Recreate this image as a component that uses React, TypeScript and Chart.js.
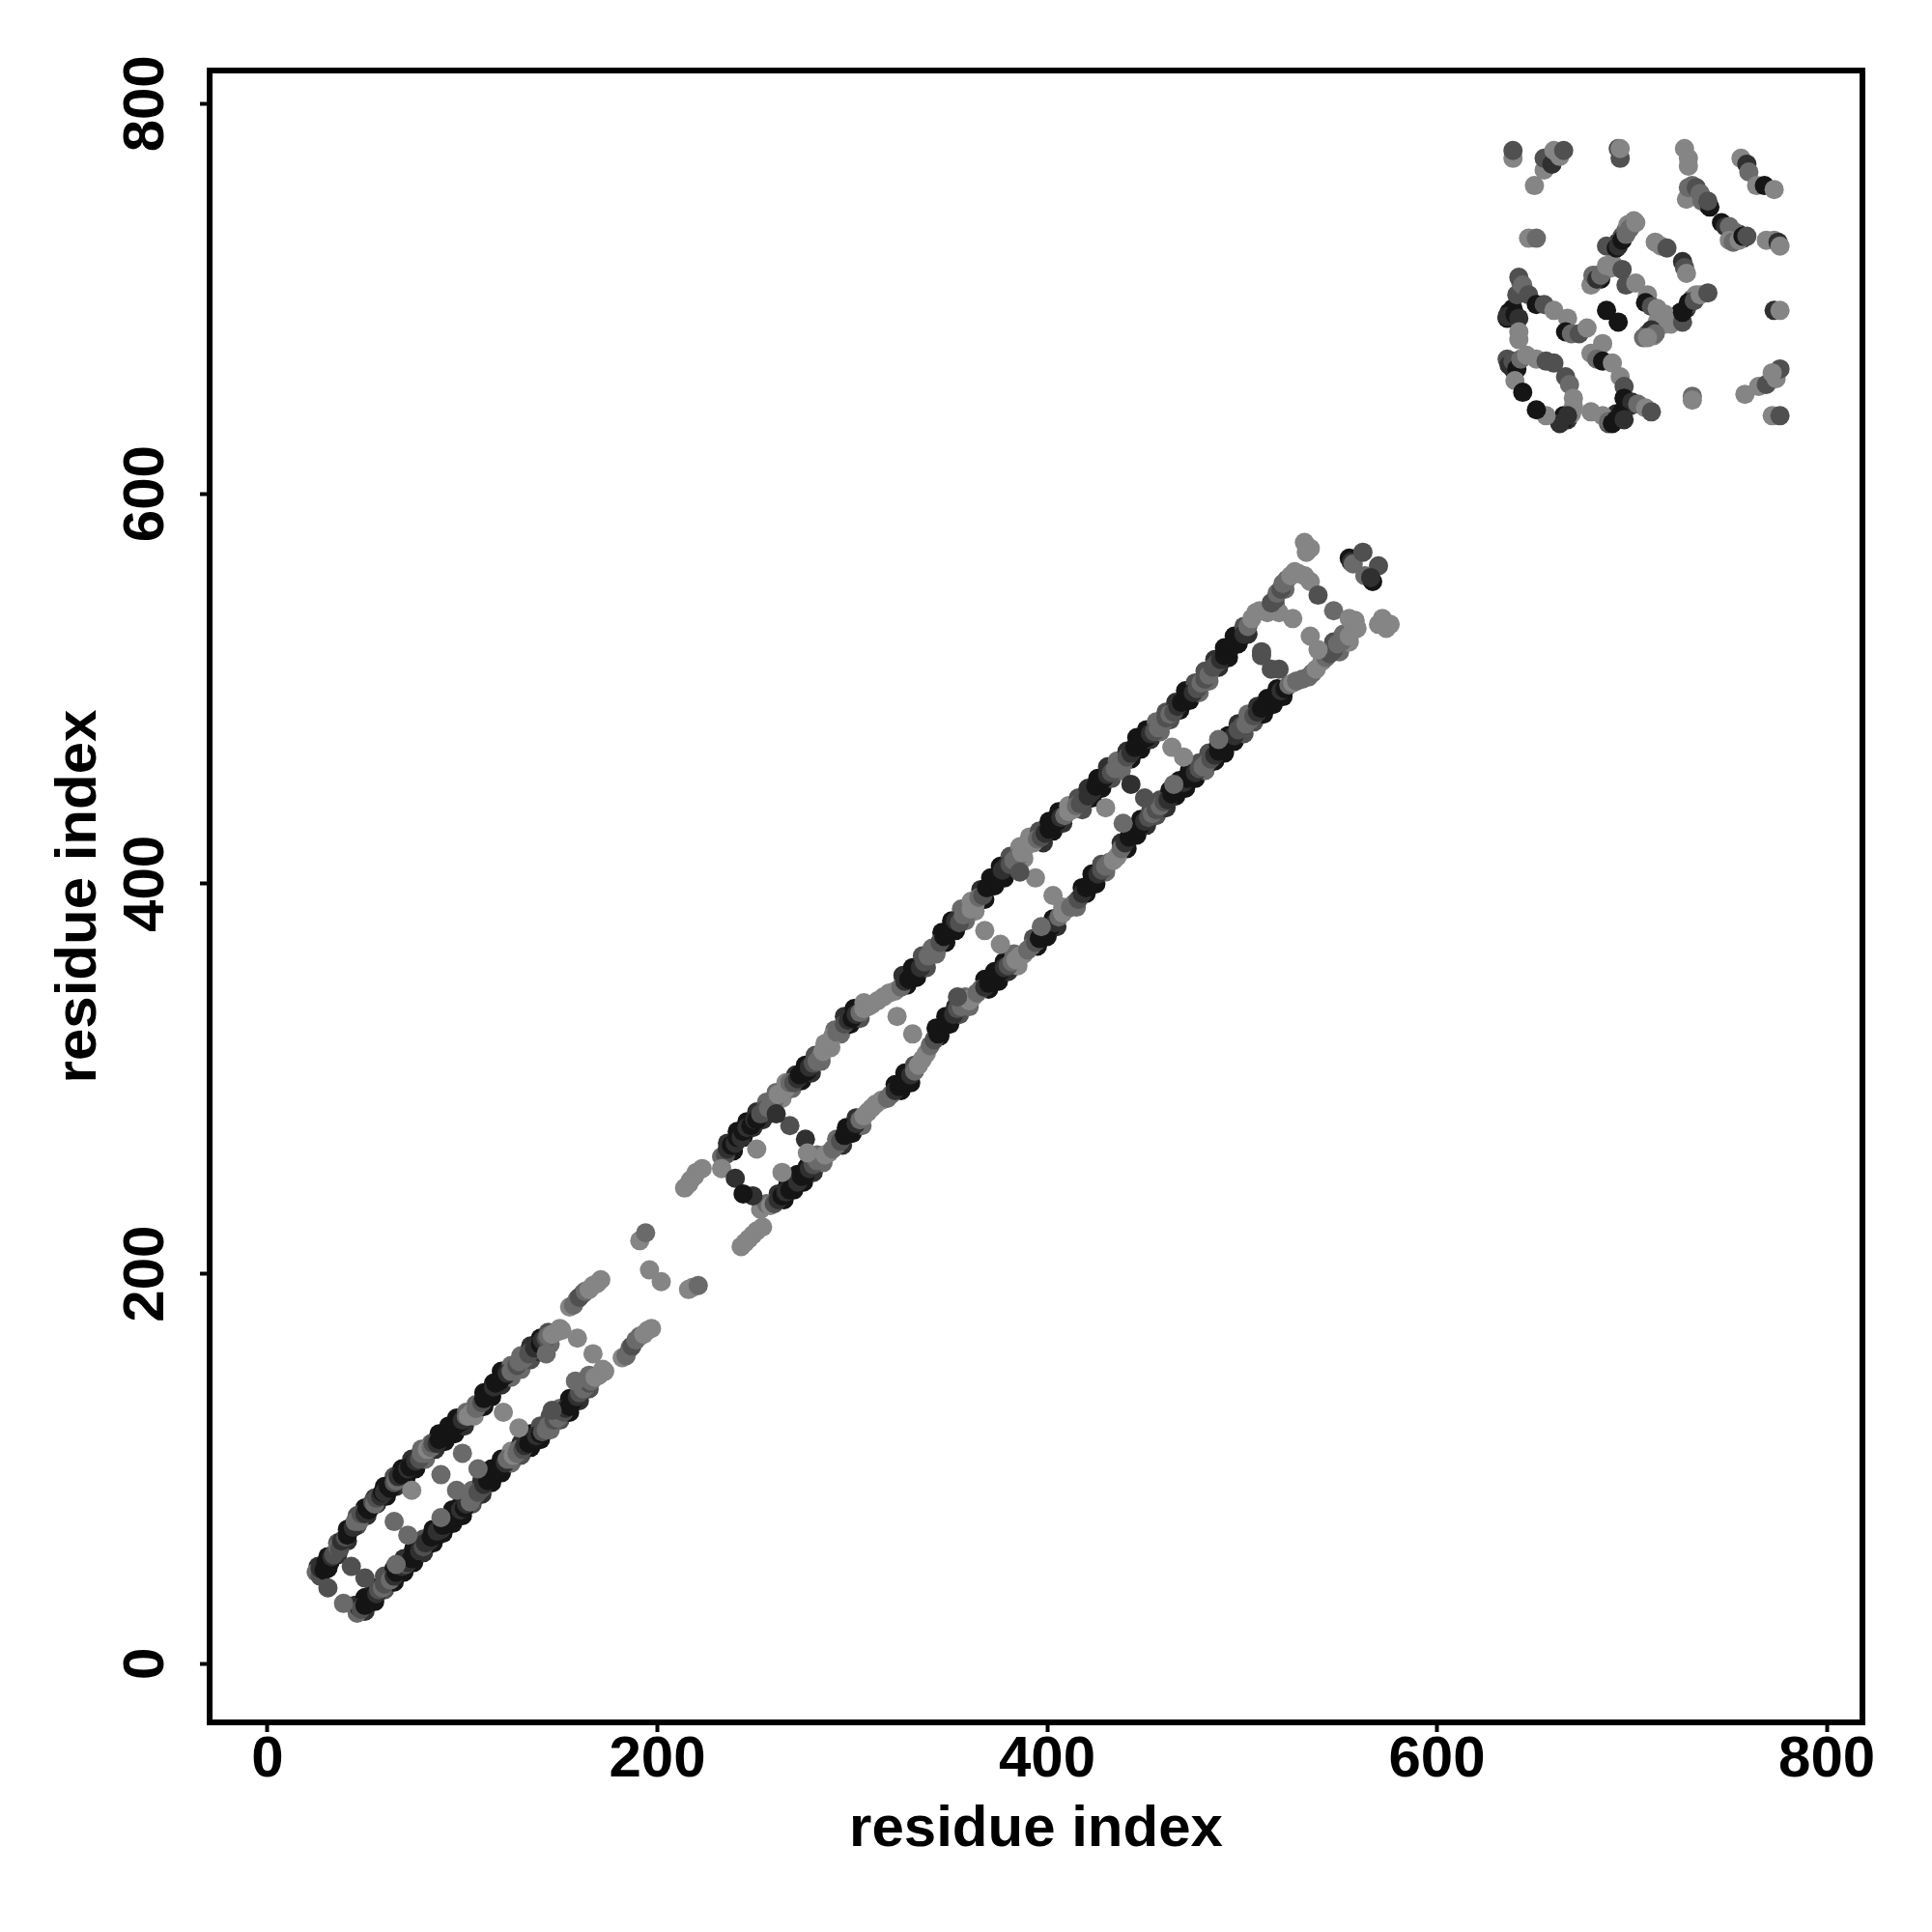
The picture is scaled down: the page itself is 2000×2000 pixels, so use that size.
import React, { useEffect, useRef } from "react";
import { Chart, registerables } from "chart.js";

Chart.register(...registerables);

// Each triple is: residue x, residue y, score class (0 strongest .. 4 weakest)
const firstUpperRailA = [26,50,1,31,55,0,36,62,2,41,69,0,46,76,2,50,80,0,55,85,1,60,91,0,65,96,2,69,100,0,74,105,1,79,110,3,84,113,3,88,118,0,93,122,0,97,126,0,102,129,3,107,133,3,111,139,0,116,144,0,120,150,0,125,153,3,130,158,3,135,163,1,140,167,0,144,170,2];
const firstUpperRailB = [31,49,0,36,56,1,41,63,1,46,71,2,51,76,1,56,82,1,61,86,0,66,91,1,71,95,0,76,100,0,81,105,3,86,110,1,91,114,0,96,118,0,101,122,1,106,127,4,111,132,0,115,137,0,120,143,1,125,147,3,130,151,3,135,156,2,140,160,1,145,164,3];
const firstLowerRailA = [45,30,1,50,34,0,55,39,1,60,45,2,65,49,0,70,54,1,75,59,0,80,64,2,85,69,0,90,74,0,95,79,0,100,84,0,105,89,3,110,94,1,115,100,0,120,105,0,125,109,4,130,113,1,135,118,0,140,122,2,145,127,2,150,131,3,155,136,0,160,142,2,165,148,3];
const firstLowerRailB = [50,27,1,55,32,0,60,38,2,65,42,0,70,47,0,75,52,0,80,57,1,85,62,0,90,67,0,95,72,0,100,76,0,105,82,2,110,87,1,115,93,0,120,98,0,125,103,3,130,107,2,135,111,0,140,115,0,145,120,3,150,125,2,155,129,0,160,135,1,165,141,2];
const secondUpperRailA = [236,267,1,241,273,0,246,278,0,251,283,1,256,288,3,261,293,3,266,298,4,271,302,1,276,307,0,281,312,2,286,318,4,291,325,3,296,332,1,301,336,0,306,339,4,326,353,1,331,357,0,336,363,2,341,367,3,346,375,0,351,381,0,356,387,3,361,391,4,366,397,1,371,403,0,376,409,0,381,414,2,386,419,4,391,424,4,396,427,2,401,432,0,406,437,0,411,440,4,416,444,2,421,449,1,426,454,0,431,460,1,436,463,3,441,468,1,446,475,0,451,479,0,456,483,3,461,488,2,466,493,1,471,499,0,476,503,2,481,509,2,486,515,1,491,521,0,496,527,0,501,532,2];
const secondUpperRailB = [239,263,0,244,270,0,249,275,1,254,279,1,259,285,3,264,290,4,269,295,3,274,299,0,279,303,1,284,309,3,289,316,4,294,323,3,299,328,0,304,331,2,328,348,0,333,352,0,338,357,2,343,364,3,348,370,0,353,376,0,358,381,3,363,386,4,368,392,0,373,399,0,378,403,0,383,409,3,388,413,4,398,421,1,403,427,0,408,431,1,418,438,2,423,444,0,428,449,0,433,454,2,438,458,3,443,464,0,448,469,0,453,474,1,458,478,3,463,484,2,468,489,0,473,494,0,478,498,3,483,504,3,488,511,1,493,516,0,498,523,0,503,528,1,517,543,2,522,551,3];
const secondLowerRailA = [262,241,1,267,246,0,272,251,0,277,255,0,282,261,3,292,269,3,297,275,0,302,280,1,322,297,0,327,303,0,332,307,2,343,326,0,348,332,0,353,337,1,358,342,3,368,351,0,373,355,0,378,360,0,383,364,3,393,372,2,398,377,0,403,382,0,408,388,4,418,398,0,423,405,0,428,410,2,438,421,1,443,427,0,448,433,0,453,437,2,458,443,2,463,448,0,468,453,0,473,458,0,478,462,2,483,467,2,488,471,0,493,476,0,498,482,1,503,487,3,508,491,1,513,495,0,518,500,0,547,524,2,552,528,3];
const secondLowerRailB = [265,238,0,270,243,0,275,247,0,280,252,1,285,257,3,295,266,1,300,272,0,305,276,3,325,294,0,330,298,0,345,322,0,350,328,0,355,333,2,360,337,3,370,346,0,375,350,0,380,355,1,385,358,4,395,368,0,400,373,0,405,378,1,415,388,3,420,395,0,425,400,0,430,406,3,441,418,0,446,425,0,451,430,1,456,435,2,461,439,1,466,445,0,471,449,0,476,454,0,481,458,3,486,463,0,491,467,0,496,473,0,501,477,2,506,483,2,511,487,0,516,492,0,521,496,0,550,519,3,555,524,4];
const firstUpper = [25,47,3,27,45,2,27,49,1,29,48,0,30,52,0,32,52,0,33,55,1,34,56,2,36,60,3,37,59,2,38,63,1,40,65,2,41,66,0,43,70,0,44,70,1,45,73,3,47,73,3,48,77,2,50,77,1,51,80,0,52,79,0,54,83,2,55,82,3,56,85,2,58,86,1,59,88,0,60,88,1,62,91,0,63,90,0,65,93,2,66,94,3,67,96,1,69,97,0,70,98,0,72,100,1,73,101,0,75,103,0,76,104,1,78,105,2,79,108,3,81,108,3,82,110,4,84,111,3,85,113,2,87,113,1,88,115,0,90,116,0,91,118,0,93,119,0,94,120,0,96,122,0,97,123,0,99,124,0,100,125,1,102,127,3,103,127,4,105,129,4,107,131,3,108,133,3,110,134,2,111,136,0,113,138,0,114,140,0,116,142,1,117,144,0,119,145,0,120,147,0,122,148,0,123,149,1,125,150,3,126,152,3,128,153,2,129,155,3,131,156,3,132,157,3,134,159,2,135,160,2,137,162,1,138,163,1,140,164,0,141,166,1,143,167,2,144,168,3,146,169,4,148,170,4,150,172,4,151,171,4];
const firstUpperEnd = [155,183,4,157,184,3,159,187,3,160,188,2,162,190,2,163,191,3,165,192,4,167,194,4,169,195,4,171,197,4];
const firstLower = [46,26,3,47,29,1,48,28,2,50,30,0,51,31,0,53,33,0,54,35,0,56,36,1,57,38,2,59,39,3,60,41,2,62,43,2,63,43,3,65,45,1,66,47,0,68,48,0,69,50,1,71,51,2,72,52,1,74,54,0,75,56,0,77,58,0,78,58,1,80,60,2,81,62,1,83,63,1,84,65,0,86,66,0,87,68,1,89,69,1,90,71,0,92,72,0,93,73,0,95,75,0,96,77,0,98,78,0,99,79,1,101,80,0,102,82,1,104,83,3,105,85,3,107,87,3,108,88,2,110,90,2,111,92,1,113,94,0,114,96,0,116,97,0,117,99,0,119,100,0,120,102,0,122,103,1,123,105,3,125,105,3,126,107,4,128,108,3,129,110,3,131,110,2,132,112,1,134,113,0,135,115,0,137,115,0,138,117,1,140,118,0,141,119,2,143,120,3,144,122,3,146,123,3,147,125,2,149,126,3,150,128,3,152,129,2,153,131,1,155,132,0,156,134,0,158,136,0,159,137,1,160,139,2,162,141,3,163,142,3,165,144,2,166,145,3,168,147,4,170,148,4,172,151,4,173,150,4];
const firstLowerEnd = [182,157,4,184,158,3,186,162,3,187,163,2,189,166,3,191,168,3,193,169,4,195,171,4,197,172,4];
const firstCross = [31,39,2,43,50,2,39,31,3,50,44,2,65,73,3,72,66,3,66,51,3,74,89,4,89,97,3,97,89,3,89,75,3,100,108,3,108,100,3,121,129,4,129,121,4,143,159,3,159,167,4,167,159,4,158,145,3,146,130,2];
const bridgePoints = [191,217,4,194,221,3,196,202,4,202,196,4,216,192,4,218,193,4,221,194,3];
const secondUpperStart = [214,244,4,216,246,4,217,248,4,219,250,4,220,252,4,223,254,4];
const secondLowerStart = [243,214,4,245,216,4,247,218,4,249,220,4,251,222,4,254,224,4];
const secondUpper = [233,260,3,235,261,2,236,264,1,238,266,0,240,267,1,241,270,0,243,270,1,244,273,0,246,275,1,248,276,0,250,279,1,251,279,0,253,282,2,255,284,2,257,285,3,259,288,3,260,289,3,262,292,4,264,293,4,266,295,4,268,298,3,270,298,2,272,300,1,273,302,0,275,303,0,277,304,0,278,306,1,280,308,2,282,309,3,284,312,3,285,314,4,287,317,4,288,319,4,290,322,4,292,324,3,294,326,3,296,328,2,298,330,1,300,331,0,302,333,1,304,334,3,306,336,4,308,337,4,310,338,4,313,340,4,316,342,4,319,344,4,322,345,4,325,347,3,327,350,1,329,351,0,331,353,0,333,356,0,335,357,1,337,360,2,339,363,3,341,364,3,343,367,3,345,370,2,347,373,0,349,375,0,351,377,0,353,381,1,355,380,2,357,384,3,359,385,3,361,387,4,363,389,4,365,393,3,367,394,2,369,398,0,371,399,0,373,402,0,375,404,0,377,407,1,379,409,1,381,410,2,383,412,3,385,414,3,387,416,4,389,419,4,391,421,4,393,421,4,395,423,3,397,424,2,399,426,1,401,428,0,403,430,0,405,432,0,407,434,1,409,435,3,411,437,4,413,438,4,415,440,3,417,441,2,419,443,2,421,445,1,423,447,1,425,450,0,427,452,0,429,454,0,431,456,1,433,457,2,435,459,3,437,460,3,439,462,3,441,465,2,443,467,1,445,470,0,447,472,0,449,474,0,451,475,0,453,477,1,455,478,2,457,480,3,459,482,3,461,485,2,463,487,3,465,488,2,467,491,1,469,493,0,471,495,0,473,497,0,475,498,1,477,500,2,479,503,3,481,505,2,483,507,3,485,511,2,487,513,2,489,515,1,491,517,0,493,519,0,495,522,0,497,524,0,499,526,0,501,528,1,503,532,3,505,536,4,507,539,4,509,540,4,513,539,4,519,539,4,526,536,4];
const secondUpperEnd = [515,544,2,517,546,2,518,549,3,520,551,2,521,554,3,523,556,3,525,558,4,527,560,4,529,559,4,532,558,4,535,555,4,539,548,2,547,540,3];
const secondLower = [253,233,4,256,236,3,258,235,4,260,236,2,262,238,1,264,240,0,266,242,1,268,243,0,270,246,0,272,247,1,274,250,0,276,251,0,278,254,1,280,256,2,282,258,3,284,260,3,286,261,4,288,262,4,290,264,3,292,266,3,294,268,2,296,271,0,298,273,0,300,275,0,302,277,1,304,279,3,306,281,4,308,283,4,310,285,4,312,287,4,315,289,4,318,290,3,320,292,3,322,294,1,324,296,0,326,298,0,328,300,0,330,302,1,332,304,3,334,307,4,336,310,4,338,313,4,340,317,3,342,320,2,344,323,0,346,326,0,348,329,0,350,331,0,352,333,1,354,336,2,356,337,3,358,339,3,360,340,4,362,342,4,364,344,3,366,346,3,368,347,1,370,349,0,372,351,0,374,353,0,376,355,0,378,357,1,380,358,2,382,360,3,384,361,4,386,363,4,388,364,4,390,366,3,392,368,3,394,370,2,396,372,0,398,374,0,400,376,0,402,378,0,404,380,1,406,383,3,408,385,4,410,387,4,412,388,3,414,390,3,416,392,2,418,395,1,420,398,0,422,400,0,424,403,0,426,405,1,428,407,2,430,409,3,432,411,3,434,412,4,436,414,4,438,418,3,440,421,1,442,424,0,444,427,0,446,428,0,448,430,0,450,432,1,452,434,2,454,436,3,456,438,2,458,440,3,460,442,2,462,443,1,464,446,0,466,448,0,468,450,0,470,452,1,472,454,0,474,455,0,476,457,1,478,459,2,480,460,3,482,462,3,484,464,2,486,466,1,488,468,0,490,470,0,492,472,0,494,474,0,496,476,1,498,479,2,500,481,2,502,482,3,504,484,3,506,486,2,508,488,1,510,490,0,512,492,0,514,493,0,516,495,0,518,497,0,520,499,1,522,500,0,524,502,3,526,503,4,528,504,3,531,505,3,534,506,3,536,508,3,538,510,4,541,514,4,543,516,3,545,518,2,547,520,2,549,523,3,551,524,3,553,526,3,555,527,4,557,530,4,559,531,4,558,535,4,555,536,4];
const secondCross = [233,254,4,251,264,4,268,276,2,276,269,1,240,249,1,249,240,1,244,241,0,264,252,4,277,262,4,261,282,1,323,332,4,331,323,4,368,376,4,376,369,4,394,403,4,403,394,4,397,378,3,354,342,2,386,406,2,430,439,4,439,431,3,443,451,1,450,444,2,464,470,4,470,465,4,465,451,3,488,474,3,510,519,2,510,517,2,515,510,2,519,510,2,535,527,4,539,520,4];
const tailPoints = [532,575,4,535,572,4,533,570,4,572,536,4,576,533,4,570,533,4,574,531,4,555,567,0,556,565,1,557,564,3,562,570,2,570,563,2,563,558,3,567,555,0,566,557,1];
const patchPiles = [692,726,0,693,729,1,695,732,2,697,735,3,698,738,4,701,740,4,679,707,4,682,712,3,684,710,0,687,715,4,690,718,4,725,693,0,728,695,1,729,697,2,731,700,3,733,702,4,713,688,4,718,689,4,720,687,4,708,682,3,711,681,4,636,690,0,639,695,0,638,692,1,641,690,2,641,702,2,643,708,3,637,667,0,639,664,1,636,669,2,665,640,0,667,638,1,669,642,2,690,638,0,692,641,1,695,642,0,688,636,2,697,647,0,699,645,1,757,731,0,755,733,1,753,734,3,733,755,2,736,752,3,739,748,0];
const patchEdges = [639,772,4,639,776,2,650,758,4,655,766,4,655,772,2,659,769,1,660,776,4,663,773,4,665,776,2,693,777,2,694,772,2,694,777,4,727,777,4,729,772,4,729,768,4,756,772,4,759,769,1,760,765,3,764,758,4,768,758,0,773,756,4,647,731,4,651,731,3,773,694,1,776,694,4,731,650,3,731,648,4,758,651,4,765,655,4,769,656,2,774,659,4,776,664,2,772,662,4,772,640,4,776,640,2];
const patchUpperRight = [728,751,4,729,757,3,731,758,3,733,757,2,735,754,3,736,750,3,740,747,0,739,750,2,746,739,0,748,737,1,750,737,3,750,730,4,752,729,3,755,730,4,757,732,0,759,732,2,769,730,4,773,730,4,775,729,1,776,727,4];
const patchCentre = [687,727,2,692,726,0,693,727,1,695,730,0,697,733,3,699,736,3,702,739,4,712,729,4,715,727,4,718,726,2,726,719,1,727,716,2,728,713,4,680,708,4,680,712,3,682,710,1,684,712,3,687,717,4,690,716,4,695,715,2,697,707,2,702,708,4,708,702,4,707,698,0,710,696,2,713,695,4,717,692,4,717,687,4,710,684,1,712,682,3,706,680,3,708,680,4,726,688,2,726,693,0,729,698,0,732,699,2,735,702,4,739,703,2];
const patchDots = [687,694,0,693,688,0,644,652,0];
const patchLeft = [642,711,2,644,707,3,647,702,2,651,697,0,655,697,2,660,694,4,667,690,4,666,683,0,669,682,3,673,682,2,677,685,4,685,677,4,679,672,4,682,669,3,685,668,0,690,667,4,694,660,4,696,655,2,696,649,0,700,647,1,703,646,3,707,644,4,710,642,2,637,693,0,636,691,1,640,692,0,642,690,1,642,683,4,642,679,4];
const patchLoop = [637,666,1,639,668,2,641,664,0,643,669,3,646,671,4,651,669,4,656,668,2,660,667,2,666,660,2,668,656,3,670,649,4,670,645,4,669,641,4,665,638,0,667,640,1,663,636,1,656,640,4,651,643,0,640,658,4,679,642,4,685,640,4,688,637,3,690,636,0,692,638,0,694,640,0,696,638,1];

const pointGroups = [
  firstUpperRailA, firstUpperRailB, firstLowerRailA, firstLowerRailB,
  secondUpperRailA, secondUpperRailB, secondLowerRailA, secondLowerRailB,
  firstUpper, firstUpperEnd, firstLower, firstLowerEnd, firstCross, bridgePoints,
  secondUpperStart, secondLowerStart, secondUpper, secondUpperEnd, secondLower, secondCross, tailPoints,
  patchPiles, patchEdges, patchUpperRight, patchCentre, patchLeft, patchLoop, patchDots,
];

const scoreGreys = ["#151515", "#303030", "#505050", "#6a6a6a", "#858585"];
const tickValues = [0, 200, 400, 600, 800];
const axisTitle = "residue index";

const points: { x: number; y: number }[] = [];
const greys: string[] = [];
for (const group of pointGroups) {
  for (let i = 0; i < group.length; i += 3) {
    points.push({ x: group[i], y: group[i + 1] });
    greys.push(scoreGreys[group[i + 2]]);
  }
}

const font = { family: "'Liberation Sans', Arial, sans-serif", weight: "bold" as const, size: 60 };

const framePlugin = {
  id: "frame",
  afterDatasetsDraw(chart: Chart) {
    const { ctx, chartArea: a } = chart;
    ctx.save();
    ctx.strokeStyle = "#000";
    ctx.lineWidth = 6;
    ctx.strokeRect(a.left, a.top, a.right - a.left, a.bottom - a.top);
    ctx.restore();
  },
};

export default function App() {
  const ref = useRef<HTMLCanvasElement>(null);
  useEffect(() => {
    if (!ref.current) return;
    const chart = new Chart(ref.current, {
      type: "scatter",
      data: {
        datasets: [
          {
            data: points,
            backgroundColor: greys,
            borderWidth: 0,
            pointRadius: 10,
            pointHoverRadius: 10,
          },
        ],
      },
      options: {
        animation: false,
        responsive: false,
        events: [],
        layout: { padding: { top: 73, right: 72, left: 0, bottom: 0 } },
        plugins: { legend: { display: false }, tooltip: { enabled: false } },
        scales: {
          x: {
            type: "linear",
            min: -29.7,
            max: 818.3,
            afterFit: (s: any) => { s.height = 217; },
            afterBuildTicks: (s: any) => { s.ticks = tickValues.map((value) => ({ value })); },
            border: { display: false },
            grid: { drawOnChartArea: false, drawTicks: true, tickLength: 10, tickWidth: 4, tickColor: "#000" },
            ticks: { color: "#000", font, padding: -7, maxRotation: 0, minRotation: 0, autoSkip: false },
            title: { display: true, text: axisTitle, color: "#000", font, padding: { top: 0, bottom: 70 } },
          },
          y: {
            type: "linear",
            min: -30,
            max: 817,
            afterFit: (s: any) => { s.width = 217; },
            afterBuildTicks: (s: any) => { s.ticks = tickValues.map((value) => ({ value })); },
            border: { display: false },
            grid: { drawOnChartArea: false, drawTicks: true, tickLength: 10, tickWidth: 4, tickColor: "#000" },
            ticks: { color: "#000", font, padding: 4, minRotation: 90, maxRotation: 90, autoSkip: false, crossAlign: "center" },
            title: { display: true, text: axisTitle, color: "#000", font, padding: { top: 46, bottom: 0 } },
          },
        },
      },
      plugins: [framePlugin],
    } as any);
    return () => chart.destroy();
  }, []);
  return (
    <div style={{ position: "absolute", left: 0, top: 0, width: 2000, height: 2000, background: "#fff" }}>
      <canvas ref={ref} width={2000} height={2000} style={{ display: "block" }} />
    </div>
  );
}
